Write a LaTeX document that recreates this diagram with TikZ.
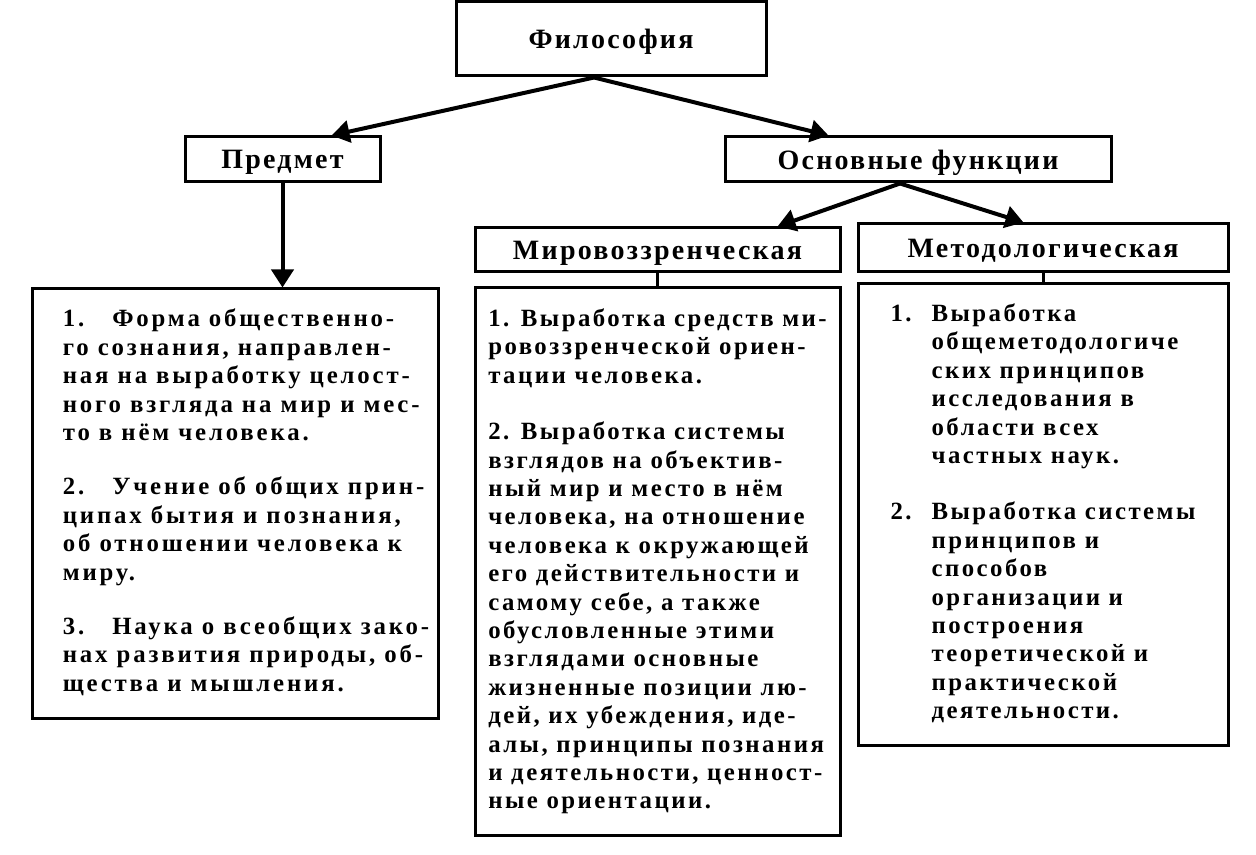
\documentclass[tikz,border=0pt]{standalone}
\usepackage{fontspec}
\setmainfont{Liberation Serif}
\newfontfamily\titlefont{Liberation Serif}[LetterSpace=8]
\newfontfamily\bodyfont{Liberation Serif}[LetterSpace=10]
\newfontfamily\widefont{Liberation Serif}[LetterSpace=11.5]
\usetikzlibrary{shapes, arrows.meta, positioning}

\begin{document}
\begin{tikzpicture}[x=0.5pt, y=-0.5pt,
            head/.style={draw, rectangle, line width=1.5pt, text depth=0pt, font=\titlefont\bfseries\fontsize{14}{16}\selectfont},
            txt/.style={draw, rectangle, line width=1.5pt, align=left, font=\bodyfont\bfseries\fontsize{12.4}{14.2}\selectfont},
            arrow/.style={-{Triangle[length=9pt,width=11pt]}, line width=2pt}]

            \useasboundingbox (0,0) rectangle (1256,855);

            \node[head, minimum width=155pt, minimum height=37pt] (filos) at (611,39) {Философия};
            \node[head, minimum width=97.5pt, minimum height=22.5pt] (predmet) at (282.5,159.5) {Предмет};
            \node[head, minimum width=193pt, minimum height=22.5pt] (osnov) at (918,159.5) {Основные функции};
            \node[head, minimum width=182.5pt, minimum height=22pt] (mirov) at (657.5,250) {Мировоззренческая};
            \node[head, minimum width=185pt, minimum height=24pt] (metod) at (1043,248) {Методологическая};

            \node[txt, font=\widefont\bfseries\fontsize{12.4}{14.2}\selectfont, minimum width=203pt, minimum height=214.5pt] (tleft) at (235,503.5) {%
                \begin{tabular}{@{\hspace{11pt}}l@{}}
                1.\hspace{14pt}Форма общественно-\\
                го сознания, направлен-\\
                ная на выработку целост-\\
                ного взгляда на мир и мес-\\
                то в нём человека.\\[13pt]
                2.\hspace{14pt}Учение об общих прин-\\
                ципах бытия и познания,\\
                об отношении человека к\\
                миру.\\[13pt]
                3.\hspace{14pt}Наука о всеобщих зако-\\
                нах развития природы, об-\\
                щества и мышления.
                \end{tabular}};

            \node[txt, minimum width=182.5pt, minimum height=273.5pt] (tmid) at (657.5,561.5) {%
                1. Выработка средств ми-\\
                ровоззренческой ориен-\\
                тации человека.\\[14pt]
                2. Выработка системы\\
                взглядов на объектив-\\
                ный мир и место в нём\\
                человека, на отношение\\
                человека к окружающей\\
                его действительности и\\
                самому себе, а также\\
                обусловленные этими\\
                взглядами основные\\
                жизненные позиции лю-\\
                дей, их убеждения, иде-\\
                алы, принципы познания\\
                и деятельности, ценност-\\
                ные ориентации.};

            \node[txt, minimum width=185pt, minimum height=230.5pt] (tright) at (1043,514.5) {%
                \begin{tabular}{@{}l@{\hspace{10pt}}l@{}}
                1. & Выработка\\
                   & общеметодологиче\\
                   & ских принципов\\
                   & исследования в\\
                   & области всех\\
                   & частных наук.\\[14pt]
                2. & Выработка системы\\
                   & принципов и\\
                   & способов\\
                   & организации и\\
                   & построения\\
                   & теоретической и\\
                   & практической\\
                   & деятельности.
                \end{tabular}};

            \draw[arrow] ([xshift=-8.5pt]filos.south) -- ([xshift=-25pt]predmet.north east);
            \draw[arrow] ([xshift=-8.5pt]filos.south) -- ([xshift=52.5pt]osnov.north west);
            \draw[arrow] (predmet.south) -- (predmet.south |- tleft.north);
            \draw[arrow] ([xshift=-9pt]osnov.south) -- ([xshift=-32pt]mirov.north east);
            \draw[arrow] ([xshift=-9pt]osnov.south) -- ([xshift=83.5pt]metod.north west);
            \draw[line width=1.5pt] (mirov.south) -- (tmid.north);
            \draw[line width=1.5pt] (metod.south) -- (tright.north);
        \end{tikzpicture}
\end{document}
